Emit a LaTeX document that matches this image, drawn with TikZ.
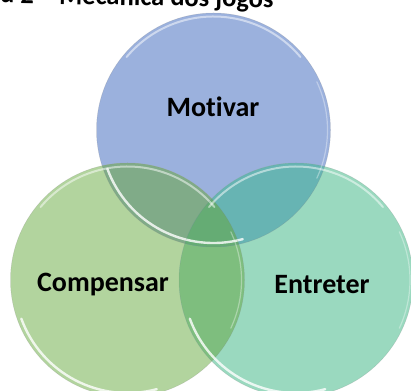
\documentclass[tikz,border=0pt]{standalone}
\usepackage{fontspec}
\setmainfont{Carlito}[Ligatures=NoCommon]
\usepackage{tikz}

\definecolor{corMot}{HTML}{9BB1DD}
\definecolor{corCom}{HTML}{B2D49E}
\definecolor{corEnt}{HTML}{9AD9BF}
\definecolor{corMotCom}{HTML}{80AB88}
\definecolor{corMotEnt}{HTML}{67B4B3}
\definecolor{corComEnt}{HTML}{7EBE7E}
\definecolor{corTodos}{HTML}{65AC74}

\begin{document}
\begin{tikzpicture}[x=1pt, y=1pt,
		rotulo/.style={font=\bfseries\fontsize{28}{30}\selectfont},
		borda/.style={white, line width=2pt, opacity=0.5, line cap=round}]
	\useasboundingbox (0,0) rectangle (411,390);
	\clip (0,0) rectangle (411,390);

	\coordinate (mot) at (213.5,260);
	\coordinate (com) at (127.5,110);
	\coordinate (ent) at (296,110);

	% circulos
	\fill[corMot] (mot) circle (117);
	\fill[corCom] (com) circle (117);
	\fill[corEnt] (ent) circle (117);

	% intersecoes
	\begin{scope}
		\clip (com) circle (117);
		\fill[corComEnt] (ent) circle (117);
	\end{scope}
	\begin{scope}
		\clip (mot) circle (117);
		\fill[corMotCom] (com) circle (117);
		\fill[corMotEnt] (ent) circle (117);
		\clip (com) circle (117);
		\fill[corTodos] (ent) circle (117);
	\end{scope}

	% brilho
	\foreach \c in {mot, com, ent} {
		\draw[black!50, opacity=0.25, line width=0.5pt] (\c) circle (117);
		\draw[borda] (\c) ++(40:113.5) arc (40:140:113.5);
		\draw[borda, opacity=0.8, line width=2.4pt] (\c) ++(200:113) arc (200:285:113);
		\draw[borda, opacity=0.35, line width=1.2pt] (\c) ++(-25:114) arc (-25:25:114);
	}

	\node[rotulo] (motivar) at (213,283) {Motivar};
	\node[rotulo] (compensar) at (103,105) {Compensar};
	\node[rotulo] (entreter) at (322,105) {Entreter};

	\node[anchor=base west, inner sep=0pt, rotate=-1, font=\bfseries\fontsize{26.5}{28}\selectfont] (titulo) at (0,387) {d 2 – Mecânica dos jogos};
\end{tikzpicture}
\end{document}
